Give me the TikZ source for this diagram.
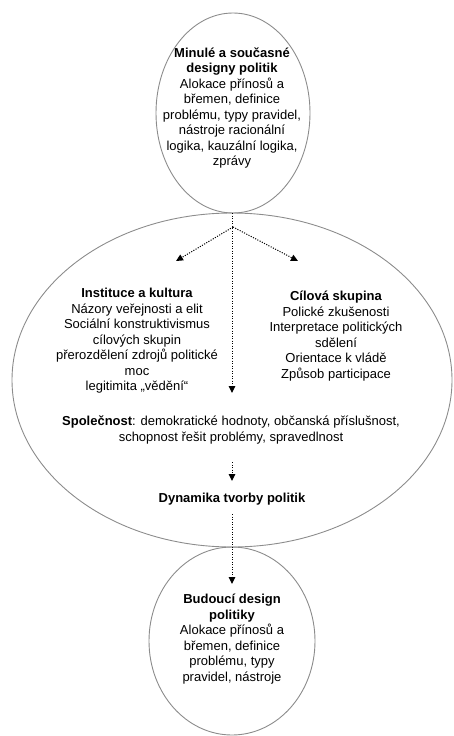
\documentclass[tikz,border=0pt]{standalone}
\usepackage{fontspec}
\setmainfont{Liberation Sans}
\usetikzlibrary{arrows.meta,shapes.geometric}
\tikzset{
  oval/.style={draw=black!45, line width=0.9pt},
  txt/.style={align=center, font=\fontsize{13}{15.5}\selectfont, inner sep=0pt},
  flow/.style={draw=black, line width=1pt, dash pattern=on 1.1pt off 1.4pt, -{Triangle[width=6.5pt,length=7pt]}}
}
\begin{document}
\begin{tikzpicture}[x=1pt,y=-1pt]
\useasboundingbox (0,0) rectangle (453,736);
% ellipses
\draw[oval] (233,113) ellipse [x radius=77, y radius=100];
\draw[oval] (232,380) ellipse [x radius=220, y radius=167];
\draw[oval] (232,641) ellipse [x radius=83, y radius=94];
% texts
\node[txt] (past) at (232,108) {\textbf{Minulé a současné}\\\textbf{designy politik}\\Alokace přínosů a\\břemen, definice\\problému, typy pravidel,\\nástroje racionální\\logika, kauzální logika,\\zprávy};
\node[txt] (inst) at (137,341) {\textbf{Instituce a kultura}\\Názory veřejnosti a elit\\Sociální konstruktivismus\\cílových skupin\\přerozdělení zdrojů politické\\moc\\legitimita „vědění“};
\node[txt] (target) at (336,336) {\textbf{Cílová skupina}\\Polické zkušenosti\\Interpretace politických\\sdělení\\Orientace k vládě\\Způsob participace};
\node[txt] (soc) at (231,430) {\textbf{Společnost}: demokratické hodnoty, občanská příslušnost,\\schopnost řešit problémy, spravedlnost};
\node[txt] (dyn) at (232,499) {\textbf{Dynamika tvorby politik}};
\node[txt] (fut) at (232,639) {\textbf{Budoucí design}\\\textbf{politiky}\\Alokace přínosů a\\břemen, definice\\problému, typy\\pravidel, nástroje};
% connector points
\coordinate (top) at (232,213);
\coordinate (fork) at (233,227);
\coordinate (lefttip) at (176,261);
\coordinate (righttip) at (298,261);
\coordinate (midtip) at (232,393);
\coordinate (s1) at (232,462);
\coordinate (s2) at (232,481);
\coordinate (d1) at (232,514);
\coordinate (d2) at (232,584);
\draw[flow] (top) -- (midtip);
\draw[flow] (fork) -- (lefttip);
\draw[flow] (fork) -- (righttip);
\draw[flow] (s1) -- (s2);
\draw[flow] (d1) -- (d2);
\end{tikzpicture}
\end{document}
